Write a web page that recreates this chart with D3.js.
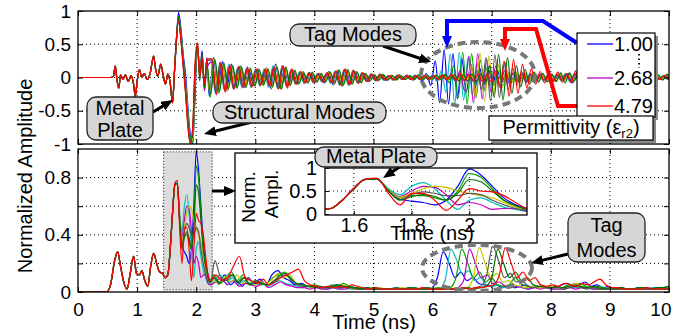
<!DOCTYPE html>
<html>
<head>
<meta charset="utf-8">
<script src="https://cdn.jsdelivr.net/npm/d3@7"></script>
<style>
  body { margin: 0; background: #fff; }
  svg { display: block; font-family: "Liberation Sans", Arial, sans-serif; }
</style>
</head>
<body>
<svg id="chart" width="687" height="334"></svg>
<script>
// ---- data ----
const permittivity = [1.00, 1.54, 2.09, 2.68, 3.17, 3.71, 4.25, 4.79];
const legendIdx = [0, 3, 7];

const xTicks = [0, 1, 2, 3, 4, 5, 6, 7, 8, 9, 10];
const yTicksTop = [-1, -0.5, 0, 0.5, 1];
const yTicksBot = [0, 0.2, 0.4, 0.6, 0.8];
const yLabelsBot = [0, 0.4, 0.8];
const xTicksInset = [1.6, 1.8, 2];
const yTicksInset = [0, 0.5, 1];

// top panel: common start (metal plate reflection), same for every tag
const earlyTopT = [0, 0.55, 0.6, 0.63, 0.66, 0.69, 0.72, 0.76, 0.8, 0.85, 0.9, 0.94, 0.97, 1.0, 1.04, 1.08,
  1.12, 1.17, 1.22, 1.28, 1.31, 1.35, 1.4, 1.44, 1.48, 1.52, 1.56, 1.6, 1.63];
const earlyTopV = [0, 0, 0.02, 0.17, -0.04, -0.16, 0.04, -0.03, 0.04, -0.06, 0.03, -0.1, -0.28, -0.06, 0.12, 0,
  0.06, -0.03, 0.06, 0.32, 0.14, 0.02, 0.2, 0.04, -0.1, 0.05, -0.08, -0.38, 0.05];

// top panel: main pulse per tag
const pulseTopT = [1.66, 1.70, 1.74, 1.78, 1.82, 1.86, 1.90, 1.94, 1.98, 2.02, 2.06, 2.10, 2.14, 2.18];
const pulseTop = [
  [0.45, 0.98, 0.75, 0.35, 0.05, -0.45, -0.85, -1.0, -0.3, 0.5, 0.1, 0.4, -0.15, 0.3],
  [0.5, 0.9, 0.7, 0.3, -0.05, -0.5, -0.9, -0.95, -0.1, 0.45, 0.2, 0.3, -0.2, 0.25],
  [0.5, 0.92, 0.68, 0.3, -0.1, -0.55, -0.92, -0.98, -0.2, 0.5, 0.05, 0.35, -0.1, 0.2],
  [0.48, 0.85, 0.65, 0.25, -0.1, -0.6, -0.95, -0.9, 0.0, 0.42, 0.15, 0.28, -0.2, 0.15],
  [0.5, 0.88, 0.62, 0.22, -0.15, -0.62, -0.98, -0.92, 0.05, 0.45, 0.0, 0.3, -0.12, 0.2],
  [0.52, 0.86, 0.6, 0.2, -0.2, -0.66, -0.95, -0.85, 0.1, 0.5, 0.05, 0.25, -0.1, 0.25],
  [0.5, 0.9, 0.6, 0.2, -0.2, -0.7, -1.0, -0.8, 0.15, 0.48, -0.05, 0.32, -0.15, 0.2],
  [0.52, 0.85, 0.58, 0.15, -0.25, -0.75, -0.98, -0.75, 0.2, 0.52, 0.0, 0.3, -0.1, 0.28]
];

// top panel: structural + tag modes, sampled every 0.075 ns from 2.22 ns (+ per tag lag)
const lateTopStart = 2.22, lateTopStep = 0.075;
const lateLag = [0, 0.03, 0.015, 0.045, 0.008, 0.035, 0.022, 0.05];
const lateTop = [
  [-0.28,0.3,-0.2,0.24,-0.16,0.2,-0.14,0.17,-0.15,0.12,
   -0.12,0.13,-0.1,0.14,-0.17,0.2,-0.16,0.14,-0.1,0.09,
   -0.1,0.07,-0.08,0.06,-0.07,0.05,-0.08,0.09,-0.11,0.1,
   -0.13,0.11,-0.1,0.08,-0.07,0.05,-0.06,0.04,-0.05,0.03,
   -0.04,0.03,-0.02,0.04,-0.03,0.02,-0.04,0.03,-0.05,0.06,
   -0.12,0.25,-0.38,0.42,-0.4,0.36,-0.32,0.28,-0.22,0.2,
   -0.15,0.14,-0.1,0.12,-0.08,0.1,-0.07,0.06,-0.08,0.05,
   -0.06,0.05,-0.07,0.04,-0.05,0.06,-0.04,0.05,-0.03,0.04,
   -0.05,0.06,-0.08,0.07,-0.05,0.04,-0.03,0.05,-0.04,0.03,
   -0.03,0.04,-0.03,0.02,-0.03,0.03,-0.02,0.03,-0.03,0.02,
   -0.03,0.03,-0.02,0.03,-0.03,0.04,-0.03],
  [0.26,-0.24,0.22,-0.18,0.2,-0.15,0.14,-0.16,0.12,-0.13,
   0.11,-0.12,0.13,-0.15,0.18,-0.16,0.14,-0.12,0.1,-0.08,
   0.08,-0.09,0.07,-0.06,0.05,-0.07,0.06,-0.09,0.1,-0.12,
   0.11,-0.12,0.09,-0.07,0.06,-0.05,0.04,-0.05,0.03,-0.04,
   0.03,-0.04,0.03,-0.02,0.03,-0.03,0.04,-0.02,0.03,-0.03,
   0.04,-0.06,0.1,-0.22,0.35,-0.4,0.38,-0.34,0.3,-0.26,
   0.22,-0.18,0.15,-0.12,0.1,-0.09,0.07,-0.06,0.05,-0.06,
   0.05,-0.04,0.06,-0.05,0.04,-0.05,0.03,-0.04,0.05,-0.04,
   0.06,-0.07,0.05,-0.04,0.05,-0.06,0.04,-0.03,0.04,-0.03,
   0.03,-0.03,0.02,-0.03,0.03,-0.02,0.03,-0.02,0.02,-0.03,
   0.03,-0.02,0.03,-0.03,0.02,-0.03,0.04],
  [-0.3,0.25,-0.24,0.2,-0.19,0.16,-0.15,0.17,-0.13,0.14,
   -0.12,0.1,-0.12,0.13,-0.14,0.17,-0.18,0.15,-0.11,0.1,
   -0.08,0.09,-0.07,0.08,-0.06,0.06,-0.07,0.08,-0.09,0.11,
   -0.12,0.1,-0.09,0.08,-0.06,0.06,-0.05,0.04,-0.04,0.05,
   -0.03,0.03,-0.04,0.03,-0.02,0.03,-0.03,0.04,-0.03,0.02,
   -0.03,0.04,-0.03,0.05,-0.08,0.18,-0.3,0.38,-0.4,0.36,
   -0.3,0.26,-0.2,0.16,-0.12,0.1,-0.12,0.09,-0.07,0.08,
   -0.06,0.07,-0.05,0.06,-0.04,0.05,-0.05,0.04,-0.06,0.05,
   -0.04,0.05,-0.06,0.05,-0.07,0.06,-0.04,0.05,-0.03,0.04,
   -0.03,0.03,-0.02,0.03,-0.03,0.02,-0.03,0.03,-0.02,0.03,
   -0.03,0.04,-0.03,0.04,-0.04,0.05,-0.05],
  [0.24,-0.26,0.2,-0.21,0.17,-0.18,0.15,-0.14,0.16,-0.12,
   0.13,-0.11,0.12,-0.14,0.16,-0.17,0.15,-0.13,0.11,-0.09,
   0.09,-0.08,0.07,-0.07,0.06,-0.05,0.07,-0.08,0.09,-0.1,
   0.12,-0.11,0.1,-0.08,0.07,-0.06,0.05,-0.04,0.05,-0.03,
   0.03,-0.03,0.02,-0.03,0.04,-0.03,0.03,-0.02,0.03,-0.03,
   0.03,-0.04,0.03,-0.04,0.05,-0.06,0.1,-0.2,0.32,-0.38,
   0.36,-0.32,0.27,-0.22,0.17,-0.14,0.1,-0.08,0.07,-0.06,
   0.05,-0.06,0.04,-0.05,0.03,-0.04,0.05,-0.03,0.04,-0.03,
   0.04,-0.05,0.06,-0.04,0.05,-0.04,0.03,-0.04,0.03,-0.02,
   0.03,-0.02,0.03,-0.02,0.02,-0.03,0.02,-0.02,0.03,-0.02,
   0.02,-0.03,0.02,-0.02,0.03,-0.02,0.03],
  [-0.22,0.28,-0.22,0.19,-0.2,0.15,-0.16,0.14,-0.14,0.15,
   -0.1,0.12,-0.12,0.15,-0.16,0.18,-0.15,0.14,-0.12,0.1,
   -0.09,0.08,-0.08,0.07,-0.06,0.06,-0.06,0.08,-0.1,0.1,
   -0.11,0.12,-0.1,0.09,-0.07,0.05,-0.05,0.05,-0.04,0.04,
   -0.03,0.04,-0.03,0.03,-0.02,0.03,-0.04,0.03,-0.03,0.02,
   -0.03,0.03,-0.04,0.03,-0.04,0.05,-0.04,0.06,-0.1,0.18,
   -0.3,0.37,-0.36,0.32,-0.26,0.2,-0.15,0.12,-0.1,0.08,
   -0.07,0.06,-0.05,0.06,-0.04,0.05,-0.04,0.03,-0.04,0.05,
   -0.05,0.04,-0.05,0.06,-0.05,0.04,-0.05,0.03,-0.04,0.03,
   -0.02,0.03,-0.03,0.02,-0.02,0.03,-0.02,0.03,-0.02,0.02,
   -0.03,0.02,-0.02,0.03,-0.02,0.03,-0.03],
  [0.27,-0.22,0.23,-0.2,0.16,-0.17,0.15,-0.13,0.14,-0.15,
   0.12,-0.13,0.1,-0.12,0.15,-0.16,0.18,-0.14,0.12,-0.1,
   0.08,-0.08,0.07,-0.08,0.06,-0.06,0.06,-0.07,0.09,-0.11,
   0.12,-0.1,0.11,-0.08,0.07,-0.06,0.05,-0.04,0.05,-0.04,
   0.03,-0.03,0.04,-0.03,0.02,-0.03,0.03,-0.03,0.02,-0.03,
   0.03,-0.03,0.04,-0.03,0.03,-0.04,0.04,-0.05,0.05,-0.06,
   0.1,-0.18,0.3,-0.35,0.34,-0.3,0.24,-0.18,0.14,-0.11,
   0.09,-0.08,0.06,-0.07,0.05,-0.04,0.05,-0.06,0.04,-0.05,
   0.06,-0.05,0.04,-0.06,0.05,-0.04,0.04,-0.03,0.03,-0.04,
   0.02,-0.03,0.02,-0.02,0.03,-0.02,0.02,-0.03,0.02,-0.02,
   0.02,-0.03,0.02,-0.02,0.03,-0.02,0.02],
  [-0.25,0.27,-0.21,0.22,-0.17,0.18,-0.16,0.14,-0.15,0.13,
   -0.13,0.12,-0.11,0.12,-0.14,0.16,-0.17,0.16,-0.12,0.11,
   -0.09,0.07,-0.08,0.07,-0.07,0.06,-0.06,0.08,-0.09,0.11,
   -0.11,0.12,-0.1,0.09,-0.08,0.06,-0.05,0.04,-0.04,0.04,
   -0.04,0.03,-0.03,0.02,-0.03,0.03,-0.03,0.04,-0.03,0.03,
   -0.03,0.03,-0.03,0.04,-0.03,0.04,-0.05,0.04,-0.05,0.05,
   -0.06,0.05,-0.1,0.18,-0.3,0.35,-0.34,0.3,-0.24,0.18,
   -0.14,0.12,-0.1,0.08,-0.07,0.06,-0.07,0.05,-0.06,0.07,
   -0.08,0.07,-0.05,0.06,-0.04,0.05,-0.06,0.04,-0.03,0.03,
   -0.03,0.02,-0.03,0.03,-0.02,0.03,-0.02,0.02,-0.03,0.03,
   -0.03,0.04,-0.04,0.05,-0.05,0.06,-0.05],
  [0.28,-0.25,0.22,-0.22,0.19,-0.16,0.17,-0.15,0.13,-0.14,
   0.12,-0.11,0.13,-0.12,0.14,-0.17,0.18,-0.16,0.13,-0.1,
   0.09,-0.08,0.07,-0.07,0.06,-0.07,0.07,-0.08,0.1,-0.11,
   0.13,-0.11,0.1,-0.09,0.07,-0.06,0.05,-0.05,0.04,-0.04,
   0.03,-0.04,0.03,-0.03,0.02,-0.03,0.03,-0.03,0.03,-0.02,
   0.03,-0.03,0.04,-0.03,0.04,-0.04,0.05,-0.04,0.04,-0.05,
   0.05,-0.06,0.05,-0.07,0.1,-0.16,0.24,-0.28,0.27,-0.24,
   0.2,-0.16,0.13,-0.1,0.09,-0.08,0.07,-0.06,0.08,-0.07,
   0.06,-0.08,0.1,-0.09,0.07,-0.06,0.05,-0.04,0.05,-0.04,
   0.03,-0.03,0.02,-0.03,0.03,-0.02,0.03,-0.02,0.02,-0.03,
   0.02,-0.03,0.03,-0.02,0.03,-0.03,0.02]
];

// bottom panel: normalized amplitude (envelope)
const earlyBotT = [0, 0.48, 0.55, 0.62, 0.67, 0.72, 0.78, 0.83, 0.88, 0.94, 0.99, 1.04, 1.08, 1.13, 1.18,
  1.23, 1.28, 1.33, 1.38, 1.43, 1.48];
const earlyBotV = [0, 0, 0.05, 0.22, 0.28, 0.18, 0.06, 0.02, 0.12, 0.25, 0.13, 0.12, 0.15, 0.08, 0.04,
  0.18, 0.27, 0.2, 0.14, 0.13, 0.1];

const pulseBotT = [1.52, 1.56, 1.60, 1.64, 1.68, 1.72, 1.76, 1.80, 1.84, 1.88, 1.92, 1.96, 2.00, 2.04,
  2.08, 2.12, 2.16, 2.20, 2.24];
const pulseBot = [
  [0.12, 0.3, 0.55, 0.75, 0.76, 0.5, 0.32, 0.28, 0.25, 0.2, 0.3, 0.6, 0.98, 0.85, 0.6, 0.35, 0.2, 0.12, 0.08],
  [0.12, 0.3, 0.56, 0.76, 0.76, 0.55, 0.42, 0.6, 0.68, 0.55, 0.3, 0.1, 0.3, 0.35, 0.25, 0.15, 0.1, 0.06, 0.05],
  [0.12, 0.3, 0.55, 0.75, 0.76, 0.52, 0.36, 0.4, 0.4, 0.35, 0.3, 0.5, 0.88, 0.8, 0.55, 0.3, 0.18, 0.1, 0.07],
  [0.12, 0.3, 0.56, 0.76, 0.76, 0.52, 0.38, 0.5, 0.6, 0.58, 0.42, 0.2, 0.25, 0.2, 0.1, 0.12, 0.12, 0.06, 0.05],
  [0.12, 0.3, 0.55, 0.75, 0.76, 0.52, 0.36, 0.45, 0.55, 0.6, 0.58, 0.5, 0.45, 0.4, 0.35, 0.25, 0.15, 0.1, 0.06],
  [0.12, 0.3, 0.55, 0.75, 0.76, 0.5, 0.32, 0.42, 0.48, 0.45, 0.4, 0.4, 0.45, 0.42, 0.3, 0.2, 0.12, 0.08, 0.06],
  [0.12, 0.3, 0.55, 0.75, 0.76, 0.5, 0.3, 0.38, 0.42, 0.38, 0.3, 0.45, 0.75, 0.7, 0.5, 0.3, 0.18, 0.1, 0.07],
  [0.12, 0.3, 0.56, 0.76, 0.78, 0.45, 0.2, 0.45, 0.45, 0.3, 0.08, 0.3, 0.55, 0.5, 0.48, 0.4, 0.25, 0.12, 0.08]
];

// bottom panel: sampled every 0.1 ns from 2.28 ns (+ per tag lag)
const lateBotStart = 2.28, lateBotStep = 0.1;
const lateBot = [
  [0.1,0.06,0.12,0.05,0.08,0.04,0.1,0.06,0.09,0.05,
   0.12,0.15,0.1,0.08,0.05,0.06,0.04,0.03,0.04,0.03,
   0.04,0.05,0.03,0.04,0.03,0.02,0.03,0.02,0.03,0.02,
   0.02,0.03,0.02,0.02,0.03,0.02,0.03,0.03,0.1,0.28,
   0.2,0.1,0.14,0.08,0.1,0.06,0.05,0.04,0.05,0.03,
   0.04,0.03,0.04,0.05,0.03,0.04,0.03,0.04,0.03,0.05,
   0.06,0.04,0.05,0.07,0.04,0.05,0.03,0.04,0.02,0.03,
   0.02,0.02,0.03,0.02,0.02,0.03,0.02,0.02,0.03,0.02],
  [0.08,0.12,0.06,0.1,0.05,0.08,0.06,0.05,0.07,0.04,
   0.06,0.08,0.06,0.05,0.04,0.03,0.04,0.03,0.03,0.02,
   0.03,0.02,0.03,0.02,0.02,0.03,0.02,0.02,0.02,0.02,
   0.02,0.02,0.02,0.03,0.02,0.02,0.02,0.03,0.02,0.08,
   0.3,0.22,0.12,0.15,0.08,0.1,0.05,0.04,0.05,0.03,
   0.03,0.04,0.03,0.02,0.03,0.04,0.03,0.02,0.03,0.03,
   0.04,0.03,0.04,0.03,0.02,0.03,0.02,0.02,0.02,0.02,
   0.02,0.02,0.02,0.02,0.03,0.02,0.02,0.02,0.02,0.02],
  [0.12,0.07,0.1,0.14,0.08,0.12,0.06,0.08,0.05,0.06,
   0.1,0.12,0.14,0.1,0.06,0.05,0.04,0.05,0.04,0.03,
   0.05,0.04,0.06,0.04,0.03,0.03,0.02,0.03,0.02,0.02,
   0.02,0.03,0.02,0.02,0.03,0.02,0.03,0.02,0.03,0.02,
   0.03,0.1,0.3,0.2,0.1,0.14,0.07,0.1,0.05,0.04,
   0.05,0.1,0.06,0.04,0.03,0.04,0.03,0.03,0.04,0.03,
   0.05,0.04,0.06,0.04,0.03,0.04,0.03,0.02,0.03,0.02,
   0.02,0.02,0.03,0.02,0.02,0.03,0.03,0.04,0.04,0.05],
  [0.07,0.1,0.05,0.08,0.04,0.06,0.05,0.04,0.06,0.03,
   0.05,0.07,0.05,0.04,0.03,0.03,0.02,0.03,0.02,0.02,
   0.03,0.02,0.02,0.03,0.02,0.02,0.02,0.02,0.02,0.02,
   0.02,0.02,0.02,0.02,0.02,0.02,0.02,0.02,0.02,0.02,
   0.02,0.03,0.08,0.3,0.2,0.1,0.12,0.06,0.07,0.04,
   0.03,0.04,0.03,0.02,0.03,0.02,0.03,0.02,0.02,0.02,
   0.03,0.02,0.03,0.03,0.02,0.02,0.02,0.02,0.02,0.02,
   0.02,0.02,0.02,0.02,0.02,0.02,0.02,0.02,0.02,0.02],
  [0.09,0.05,0.11,0.07,0.12,0.06,0.09,0.05,0.07,0.06,
   0.09,0.13,0.1,0.12,0.06,0.05,0.04,0.03,0.04,0.03,
   0.04,0.03,0.05,0.03,0.02,0.03,0.02,0.02,0.03,0.02,
   0.02,0.02,0.03,0.02,0.02,0.02,0.02,0.03,0.02,0.02,
   0.02,0.03,0.02,0.03,0.1,0.31,0.2,0.1,0.13,0.07,
   0.08,0.05,0.04,0.03,0.04,0.03,0.03,0.04,0.03,0.03,
   0.04,0.06,0.05,0.03,0.04,0.03,0.02,0.03,0.02,0.02,
   0.02,0.02,0.02,0.03,0.02,0.02,0.02,0.02,0.02,0.02],
  [0.22,0.1,0.08,0.12,0.06,0.1,0.05,0.08,0.06,0.05,
   0.08,0.1,0.12,0.08,0.05,0.04,0.04,0.03,0.04,0.03,
   0.04,0.03,0.04,0.03,0.02,0.02,0.02,0.02,0.02,0.02,
   0.02,0.02,0.02,0.02,0.02,0.02,0.02,0.02,0.02,0.02,
   0.02,0.02,0.03,0.02,0.03,0.04,0.12,0.32,0.22,0.1,
   0.13,0.07,0.08,0.04,0.03,0.04,0.03,0.03,0.03,0.02,
   0.03,0.04,0.03,0.02,0.03,0.02,0.02,0.02,0.02,0.02,
   0.02,0.02,0.02,0.02,0.02,0.02,0.02,0.02,0.02,0.02],
  [0.1,0.06,0.09,0.12,0.07,0.1,0.05,0.07,0.06,0.05,
   0.07,0.11,0.13,0.09,0.06,0.05,0.04,0.04,0.03,0.03,
   0.04,0.05,0.04,0.03,0.03,0.02,0.03,0.02,0.02,0.02,
   0.02,0.02,0.02,0.03,0.02,0.02,0.02,0.02,0.02,0.02,
   0.02,0.02,0.02,0.03,0.02,0.03,0.04,0.1,0.3,0.2,
   0.1,0.14,0.08,0.1,0.05,0.04,0.04,0.03,0.04,0.03,
   0.04,0.05,0.04,0.03,0.04,0.03,0.02,0.03,0.02,0.03,
   0.02,0.02,0.03,0.03,0.02,0.03,0.03,0.04,0.05,0.05],
  [0.12,0.08,0.1,0.18,0.25,0.1,0.08,0.06,0.09,0.05,
   0.07,0.1,0.12,0.14,0.16,0.08,0.05,0.04,0.03,0.04,
   0.03,0.04,0.03,0.05,0.04,0.03,0.02,0.03,0.02,0.02,
   0.02,0.02,0.02,0.02,0.02,0.03,0.02,0.02,0.02,0.02,
   0.02,0.02,0.03,0.02,0.03,0.03,0.04,0.05,0.12,0.31,
   0.2,0.1,0.14,0.08,0.1,0.05,0.04,0.05,0.04,0.06,
   0.05,0.04,0.06,0.05,0.07,0.09,0.05,0.03,0.03,0.02,
   0.02,0.02,0.02,0.03,0.02,0.02,0.02,0.03,0.02,0.02]
];

// ---- styles ----
const colors = ["#0000ff", "#00bfbf", "#00a000", "#bf00bf", "#c4c400", "#555555", "#006f00", "#ff0000"];
const FONT = 19;

// ---- build point lists ----
function topPoints(s) {
  const pts = earlyTopT.map((t, i) => [t, earlyTopV[i]]);
  pulseTopT.forEach((t, i) => pts.push([t, pulseTop[s][i]]));
  lateTop[s].forEach((v, k) => pts.push([lateTopStart + lateLag[s] + k * lateTopStep, v]));
  return pts;
}
function botPoints(s) {
  const pts = earlyBotT.map((t, i) => [t, earlyBotV[i]]);
  pulseBotT.forEach((t, i) => pts.push([t, pulseBot[s][i]]));
  lateBot[s].forEach((v, k) => pts.push([lateBotStart + lateLag[s] + k * lateBotStep, v]));
  return pts;
}

const svg = d3.select("#chart");
const defs = svg.append("defs");

const x = d3.scaleLinear().domain([0, 10]).range([78, 669]);
const yTop = d3.scaleLinear().domain([-1, 1]).range([144, 11]);
const yBot = d3.scaleLinear().domain([0, 1]).range([292, 149]);
const xIn = d3.scaleLinear().domain([1.5, 2.2]).range([325, 527]);
const yIn = d3.scaleLinear().domain([0, 1]).range([214, 168]);

function clip(id, x0, y0, w, h) {
  defs.append("clipPath").attr("id", id).append("rect")
    .attr("x", x0).attr("y", y0).attr("width", w).attr("height", h);
}
clip("cTop", 78, 11, 591, 133);
clip("cBot", 78, 149, 591, 143);
clip("cIn", 325, 168, 202, 47);

function marker(id, color) {
  defs.append("marker").attr("id", id)
    .attr("viewBox", "0 0 12 10").attr("refX", 4).attr("refY", 5)
    .attr("markerWidth", 12).attr("markerHeight", 10)
    .attr("markerUnits", "userSpaceOnUse").attr("orient", "auto")
    .append("path").attr("d", "M0,0L12,5L0,10Z").attr("fill", color);
}
marker("arK", "#000");
marker("arB", "#0000ff");
marker("arR", "#ff0000");

// grids
function grid(g, xs, ys, xSc, ySc) {
  const [x0, x1] = xSc.range(), [y0, y1] = ySc.range();
  xs.forEach(v => g.append("line").attr("x1", xSc(v)).attr("x2", xSc(v)).attr("y1", y0).attr("y2", y1));
  ys.forEach(v => g.append("line").attr("y1", ySc(v)).attr("y2", ySc(v)).attr("x1", x0).attr("x2", x1));
  g.attr("stroke", "#000").attr("stroke-width", 1).attr("stroke-dasharray", "1,3");
}
grid(svg.append("g"), xTicks.slice(1, -1), [-0.5, 0, 0.5], x, yTop);
grid(svg.append("g"), xTicks.slice(1, -1), [0.2, 0.4, 0.6, 0.8], x, yBot);

// zoom window in bottom panel
svg.append("rect")
  .attr("x", x(1.45)).attr("y", yBot(0.98))
  .attr("width", x(2.27) - x(1.45)).attr("height", yBot(0.015) - yBot(0.98))
  .attr("fill", "#dcdcdc").attr("stroke", "#000").attr("stroke-dasharray", "1,2");

// curves
const lineTop = d3.line().x(d => x(d[0])).y(d => yTop(d[1])).curve(d3.curveMonotoneX);
const lineBot = d3.line().x(d => x(d[0])).y(d => yBot(d[1])).curve(d3.curveMonotoneX);
const lineIn = d3.line().x(d => xIn(d[0])).y(d => yIn(d[1])).curve(d3.curveMonotoneX);

const gTop = svg.append("g").attr("clip-path", "url(#cTop)");
const gBot = svg.append("g").attr("clip-path", "url(#cBot)");
permittivity.forEach((p, s) => {
  gTop.append("path").attr("d", lineTop(topPoints(s)))
    .attr("fill", "none").attr("stroke", colors[s]).attr("stroke-width", 1.2);
  gBot.append("path").attr("d", lineBot(botPoints(s)))
    .attr("fill", "none").attr("stroke", colors[s]).attr("stroke-width", 1.2);
});

// frames and axes
function frame(x0, y0, x1, y1) {
  svg.append("rect").attr("x", x0).attr("y", y0).attr("width", x1 - x0).attr("height", y1 - y0)
    .attr("fill", "none").attr("stroke", "#000").attr("stroke-width", 1.3);
}
function axis(gen, tx, ty) {
  const g = svg.append("g").attr("transform", `translate(${tx},${ty})`).call(gen);
  g.select(".domain").remove();
  g.selectAll("text").attr("font-size", FONT).attr("font-family", "Liberation Sans, Arial, sans-serif").attr("fill", "#000");
  return g;
}
const noLab = () => "";
axis(d3.axisLeft(yTop).tickValues(yTicksTop).tickSize(-5).tickPadding(7).tickFormat(d => String(d)), 78, 0);
axis(d3.axisRight(yTop).tickValues(yTicksTop).tickSize(-5).tickFormat(noLab), 669, 0);
axis(d3.axisTop(x).tickValues(xTicks).tickSize(-5).tickFormat(noLab), 0, 11);
axis(d3.axisBottom(x).tickValues(xTicks).tickSize(-5).tickFormat(noLab), 0, 144);
frame(78, 11, 669, 144);

axis(d3.axisLeft(yBot).tickValues(yTicksBot).tickSize(-5).tickPadding(7)
  .tickFormat(d => yLabelsBot.includes(d) ? String(d) : ""), 78, 0);
axis(d3.axisRight(yBot).tickValues(yTicksBot).tickSize(-5).tickFormat(noLab), 669, 0);
axis(d3.axisTop(x).tickValues(xTicks).tickSize(-5).tickFormat(noLab), 0, 149);
const xa = axis(d3.axisBottom(x).tickValues(xTicks).tickSize(-5).tickPadding(11).tickFormat(d => String(d)), 0, 292);
xa.selectAll("text").filter(d => d === 10).attr("text-anchor", "end").attr("x", 2);
frame(78, 149, 669, 292);

// axis titles
svg.append("text").attr("x", 374).attr("y", 329).attr("text-anchor", "middle")
  .attr("font-size", 20).text("Time (ns)");
svg.append("text").attr("transform", "translate(32,176) rotate(-90)").attr("text-anchor", "middle")
  .attr("font-size", 20).text("Normalized Amplitude");

// inset
svg.append("rect").attr("x", 235).attr("y", 153).attr("width", 302).attr("height", 90)
  .attr("fill", "#fff").attr("stroke", "#000").attr("stroke-width", 1.3);
grid(svg.append("g"), xTicksInset, [0.5], xIn, yIn);
const gIn = svg.append("g").attr("clip-path", "url(#cIn)");
permittivity.forEach((p, s) => {
  gIn.append("path").attr("d", lineIn(botPoints(s)))
    .attr("fill", "none").attr("stroke", colors[s]).attr("stroke-width", 1.2);
});
axis(d3.axisLeft(yIn).tickValues(yTicksInset).tickSize(-4).tickPadding(8).tickFormat(d => String(d)), 325, 0)
  .selectAll("text").attr("font-size", 20);
axis(d3.axisBottom(xIn).tickValues(xTicksInset).tickSize(-4).tickPadding(3).tickFormat(d => String(d)), 0, 215)
  .selectAll("text").attr("font-size", 20);
frame(325, 168, 527, 215);
svg.append("text").attr("x", 432).attr("y", 240).attr("text-anchor", "middle")
  .attr("font-size", 20).text("Time (ns)");
svg.append("text").attr("transform", "translate(255,197) rotate(-90)").attr("text-anchor", "middle")
  .attr("font-size", 19).text("Norm.");
svg.append("text").attr("transform", "translate(278,194) rotate(-90)").attr("text-anchor", "middle")
  .attr("font-size", 19).text("Ampl.");

// dashed ellipses around tag modes
[[478, 75, 57, 33], [477, 268, 55, 23]].forEach(e => {
  svg.append("ellipse").attr("cx", e[0]).attr("cy", e[1]).attr("rx", e[2]).attr("ry", e[3])
    .attr("fill", "none").attr("stroke", "#777").attr("stroke-width", 4).attr("stroke-dasharray", "8,5");
});

// arrows
function arrow(pts, color, mk, w) {
  const n = pts.length, a = pts[n - 2], b = pts[n - 1];
  const dx = b[0] - a[0], dy = b[1] - a[1], L = Math.hypot(dx, dy);
  const end = [b[0] - dx / L * 8, b[1] - dy / L * 8];
  const p = pts.slice(0, n - 1).concat([end]);
  svg.append("path").attr("d", d3.line()(p)).attr("fill", "none")
    .attr("stroke", color).attr("stroke-width", w).attr("marker-end", `url(#${mk})`);
}
arrow([[153, 112], [173, 100]], "#000", "arK", 3);
arrow([[252, 122], [204, 134]], "#000", "arK", 3);
arrow([[383, 46], [431, 62]], "#000", "arK", 3);
arrow([[401, 166], [383, 178]], "#000", "arK", 3);
arrow([[568, 254], [531, 263]], "#000", "arK", 3);
arrow([[212, 191], [236, 191]], "#000", "arK", 3);
arrow([[577, 43], [543, 21], [447, 21], [447, 48]], "#0000ff", "arB", 4);
arrow([[577, 106], [558, 106], [536, 29], [505, 29], [505, 51]], "#ff0000", "arR", 4);

// callouts
function callout(x0, y0, w, h, lines, ys) {
  svg.append("rect").attr("x", x0).attr("y", y0).attr("width", w).attr("height", h)
    .attr("rx", 9).attr("ry", 9).attr("fill", "#d6d6d6").attr("stroke", "#222").attr("stroke-width", 1.3);
  lines.forEach((t, i) => svg.append("text").attr("x", x0 + w / 2).attr("y", ys[i])
    .attr("text-anchor", "middle").attr("font-size", 20).text(t));
}
callout(87, 97, 66, 43, ["Metal", "Plate"], [115, 137]);
callout(213, 102, 173, 21, ["Structural Modes"], [119]);
callout(290, 24, 126, 22, ["Tag Modes"], [41]);
callout(315, 147, 122, 20, ["Metal Plate"], [163]);
callout(568, 213, 77, 49, ["Tag", "Modes"], [232, 257]);

// legend
svg.append("rect").attr("x", 580).attr("y", 36).attr("width", 78).attr("height", 84).attr("fill", "#888");
svg.append("rect").attr("x", 577).attr("y", 33).attr("width", 78).attr("height", 84)
  .attr("fill", "#fff").attr("stroke", "#000").attr("stroke-width", 1.2);
const legY = [44, 78, 106];
legendIdx.forEach((s, i) => {
  svg.append("line").attr("x1", 587).attr("x2", 613).attr("y1", legY[i]).attr("y2", legY[i])
    .attr("stroke", colors[s]).attr("stroke-width", 1.3);
  svg.append("text").attr("x", 614).attr("y", legY[i] + 7).attr("font-size", 20)
    .text(permittivity[s].toFixed(2));
});
svg.append("line").attr("x1", 639).attr("x2", 639).attr("y1", 54).attr("y2", 68)
  .attr("stroke", "#000").attr("stroke-width", 1.8).attr("stroke-dasharray", "1.5,3");

svg.append("rect").attr("x", 492).attr("y", 119).attr("width", 164).attr("height", 24).attr("fill", "#888");
svg.append("rect").attr("x", 489).attr("y", 116).attr("width", 164).attr("height", 24)
  .attr("fill", "#fff").attr("stroke", "#000").attr("stroke-width", 1.2);
const pt = svg.append("text").attr("x", 571).attr("y", 134).attr("text-anchor", "middle").attr("font-size", 20);
pt.append("tspan").text("Permittivity (ε");
pt.append("tspan").attr("font-size", 13).attr("dy", 4).text("r2");
pt.append("tspan").attr("dy", -4).text(")");
</script>
</body>
</html>
